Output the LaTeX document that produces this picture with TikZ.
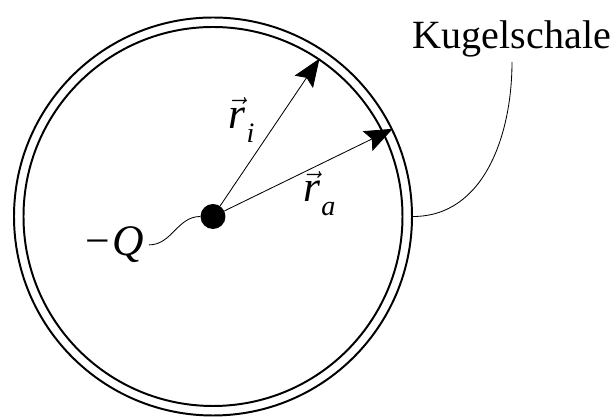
\documentclass[tikz,border=0pt]{standalone}
\usepackage{fontspec}
\setmainfont{Liberation Serif}
\usepackage{amsmath}
\usepackage{tikz}
\usetikzlibrary{arrows.meta, positioning, calc}
\newcommand{\rvec}[1]{$\vec{\textit{r}}$\kern0.03em\raisebox{-10pt}{\fontsize{20}{22}\selectfont\textit{#1}}}

\begin{document}
\begin{tikzpicture}[
  shell/.style={draw, circle, line width=1.4pt, minimum size=#1, inner sep=0pt},
  charge/.style={circle, fill=black, minimum size=0.625cm, inner sep=0pt},
  arr/.style={-{Stealth[length=0.7cm, width=0.55cm, inset=0.12cm]}, line width=0.6pt},
  lbl/.style={font=\fontsize{31}{36}\selectfont},
  wire/.style={line width=0.6pt}
]
\useasboundingbox (-5.325,-5.0125) rectangle (10.075,5.4125);

\node[shell=9.95cm]  (outer) at (0,0) {};
\node[shell=9.475cm] (inner) at (0,0) {};
\node[charge]        (dot)   at (0,0) {};

\draw[arr] (dot) -- (inner.56);
\draw[arr] (dot) -- (outer.26);

% Labels
\node[lbl, anchor=base west] (ri) at (0.26,2.21) {\rvec{i}};
\node[lbl, anchor=base west] (ra) at (2.13,0.37) {\rvec{a}};
\node[lbl, anchor=east]      (mq) at (-1.6,-0.71) {−\kern0.05em\textit{Q}};
\node[font=\fontsize{28.5}{34}\selectfont, anchor=south] (ks) at (7.475,3.86) {Kugelschale};

% Leader lines
\draw[wire] (mq.east) to[out=0, in=180] (dot.west);
\draw[wire] (outer.east) to[out=0, in=-90] (ks.south);
\end{tikzpicture}
\end{document}
